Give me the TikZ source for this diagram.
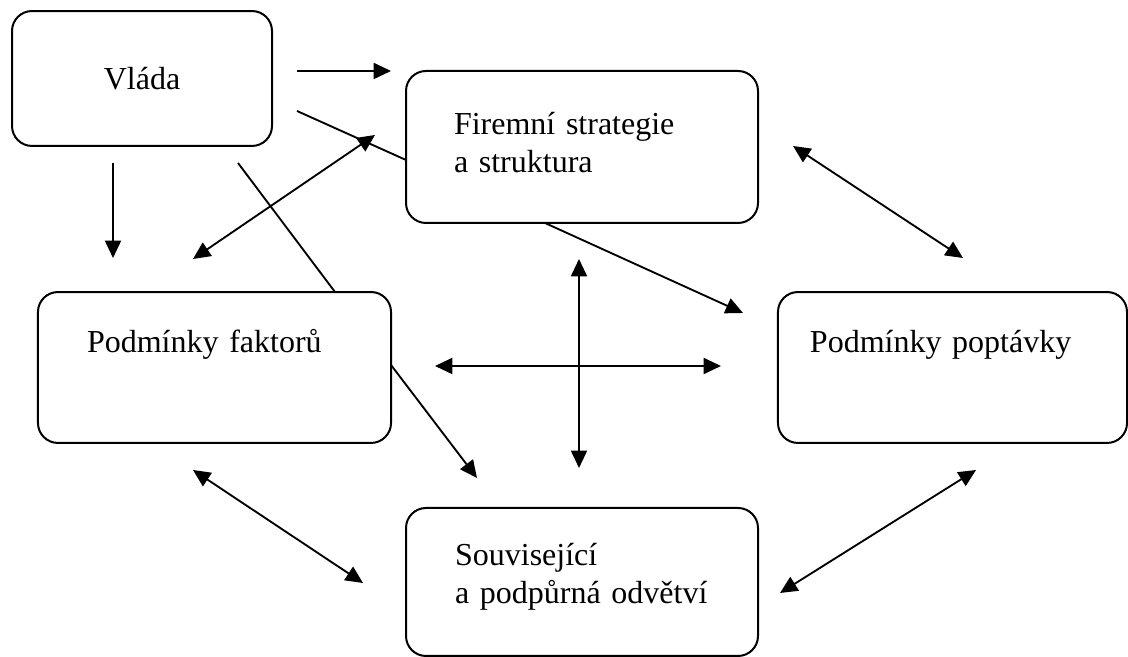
\documentclass[tikz,border=0pt]{standalone}
\usepackage{fontspec}
\setmainfont{Liberation Serif}
\usetikzlibrary{arrows.meta}

\tikzset{
  box/.style={draw, line width=0.75pt, rounded corners=7.5pt, align=left,
    font=\fontsize{12}{14.25}\selectfont, inner ysep=0pt},
  raised/.style={text height=9pt, text depth=20pt},
  link/.style={line width=0.7pt},
  arr/.style={link, -{Triangle[length=6.5pt,width=6pt]}},
  dbl/.style={link, {Triangle[length=6.5pt,width=6pt]}-{Triangle[length=6.5pt,width=6pt]}},
}

\begin{document}
\begin{tikzpicture}[x=0.375pt, y=-0.375pt]
    \useasboundingbox (0,0) rectangle (1128,657);

    \node[box, align=center, minimum width=97.5pt, minimum height=50.6pt] (vlada) at (142,78.5) {Vláda};
    \node[box, text width=96pt, inner xsep=18pt, minimum height=57pt, text depth=18pt] (firma) at (582,147)
        {Firemní strategie\\a struktura};
    \node[box, raised, text width=95.6pt, inner xsep=18.4pt, minimum height=56.6pt] (faktory) at (214.5,367.5)
        {Podmínky faktorů};
    \node[box, raised, text width=106.9pt, inner xsep=12pt, minimum height=56.6pt] (poptavka) at (952.5,367.5)
        {Podmínky poptávky};
    \node[box, text width=95.2pt, inner xsep=18.4pt, minimum height=55.5pt, text depth=21pt] (odvetvi) at (582,582)
        {Související\\a podpůrná odvětví};

    \coordinate (vf-a) at (297,71);   \coordinate (vf-b) at (391,71);
    \coordinate (vf-c) at (297,111);  \coordinate (vf-d) at (406,160);
    \coordinate (vk-a) at (113,163);  \coordinate (vk-b) at (113,258);
    \coordinate (vk-c) at (238,163);  \coordinate (vk-d) at (335,292);
    \coordinate (kf-a) at (193,259);  \coordinate (kf-b) at (375,135);
    \coordinate (fp-a) at (545,223);  \coordinate (fp-b) at (743,313);
    \coordinate (fp-c) at (793,146);  \coordinate (fp-d) at (963,258);
    \coordinate (mid-w) at (435,366); \coordinate (mid-e) at (721,366);
    \coordinate (mid-n) at (579,259); \coordinate (mid-s) at (579,468);
    \coordinate (ko-a) at (391,365);  \coordinate (ko-b) at (477,478);
    \coordinate (ko-c) at (193,470);  \coordinate (ko-d) at (363,583);
    \coordinate (po-a) at (780,593);  \coordinate (po-b) at (976,470);

    \draw[arr] (vf-a) -- (vf-b);
    \draw[link] (vf-c) -- (vf-d);
    \draw[arr] (vk-a) -- (vk-b);
    \draw[link] (vk-c) -- (vk-d);
    \draw[dbl] (kf-a) -- (kf-b);
    \draw[arr] (fp-a) -- (fp-b);
    \draw[dbl] (fp-c) -- (fp-d);
    \draw[dbl] (mid-w) -- (mid-e);
    \draw[dbl] (mid-n) -- (mid-s);
    \draw[arr] (ko-a) -- (ko-b);
    \draw[dbl] (ko-c) -- (ko-d);
    \draw[dbl] (po-a) -- (po-b);
\end{tikzpicture}
\end{document}
